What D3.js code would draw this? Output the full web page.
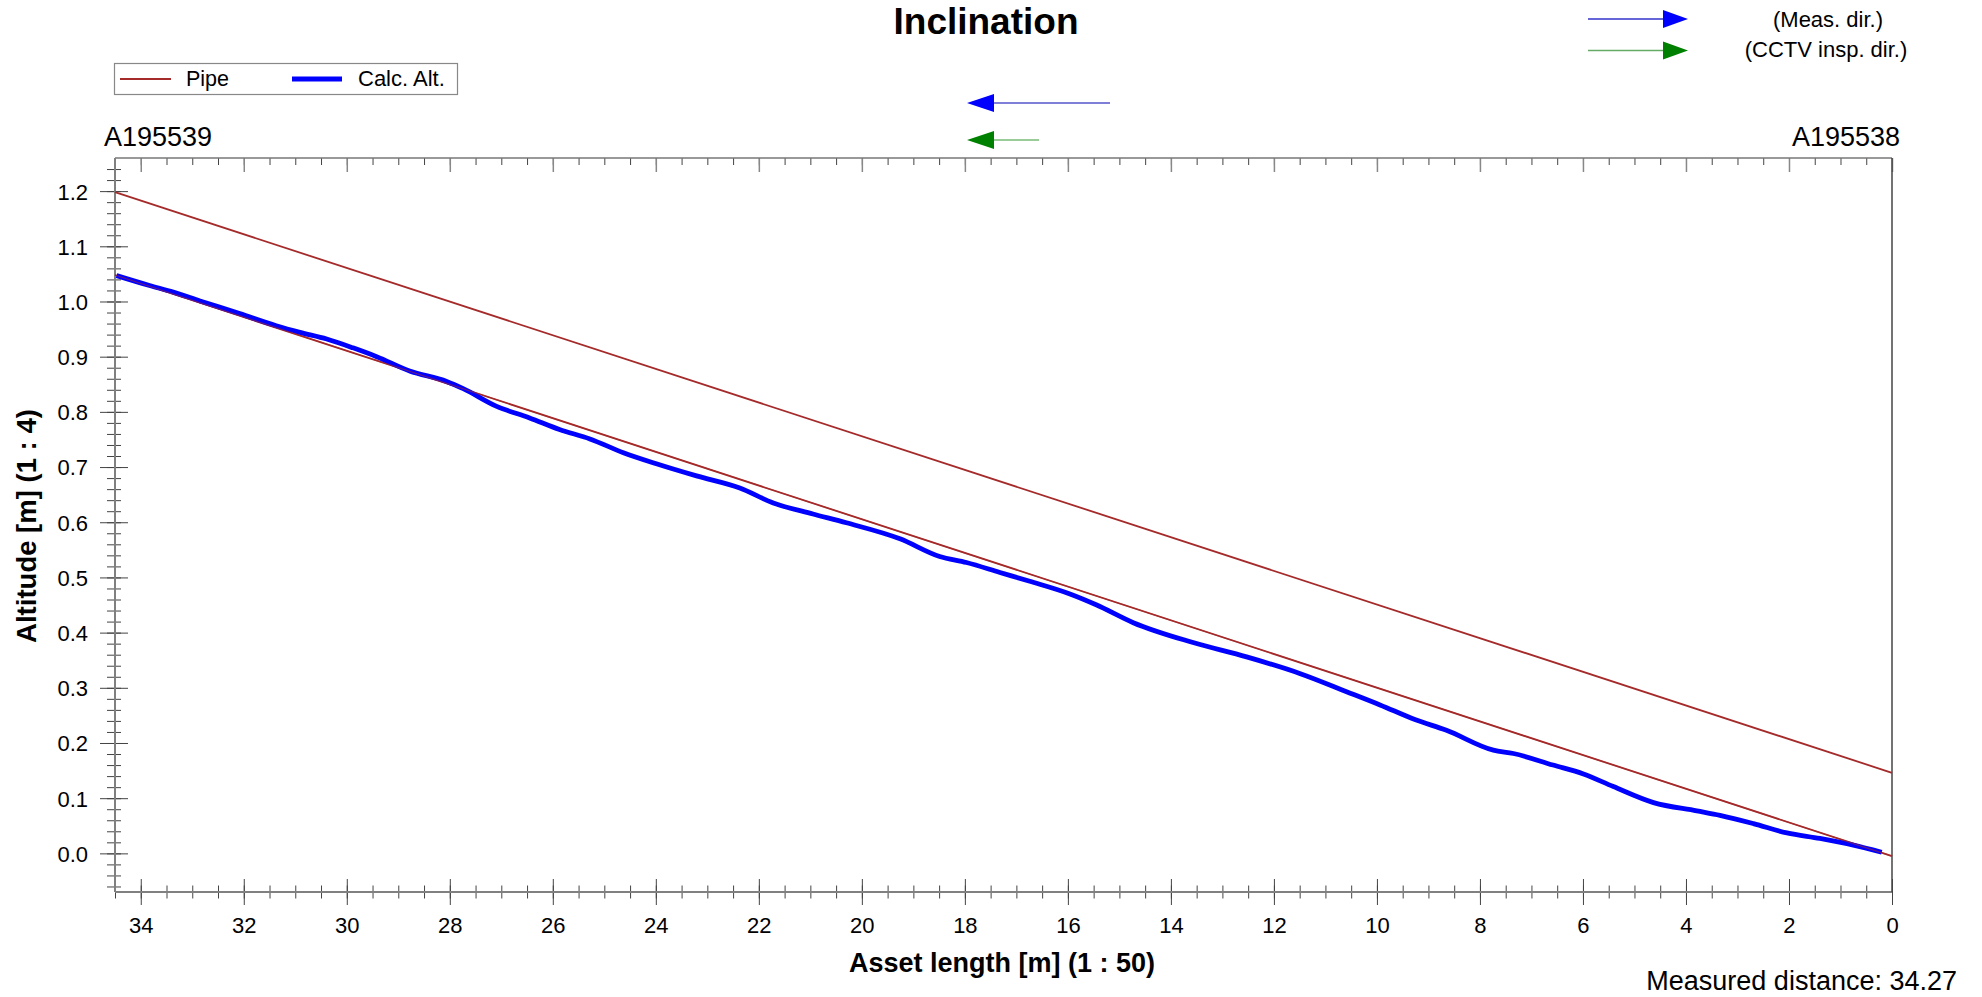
<!DOCTYPE html>
<html>
<head>
<meta charset="utf-8">
<script src="https://cdn.jsdelivr.net/npm/d3@7"></script>
<style>
  html, body { margin: 0; padding: 0; background: #fff; }
  svg { display: block; font-family: "Liberation Sans", Arial, sans-serif; }
</style>
</head>
<body>
<svg id="chart" width="1982" height="997"></svg>
<script>
// ---------------- data ----------------
const title = "Inclination";
const xAxisTitle = "Asset length [m] (1 : 50)";
const yAxisTitle = "Altitude [m] (1 : 4)";
const startNode = "A195539";
const endNode = "A195538";
const measuredText = "Measured distance: 34.27";
const seriesNames = ["Pipe", "Calc. Alt."];
const dirLabels = ["(Meas. dir.)", "(CCTV insp. dir.)"];

const xTickLabels = [0, 2, 4, 6, 8, 10, 12, 14, 16, 18, 20, 22, 24, 26, 28, 30, 32, 34];
const yTickLabels = ["0.0", "0.1", "0.2", "0.3", "0.4", "0.5", "0.6", "0.7", "0.8", "0.9", "1.0", "1.1", "1.2"];

// pipe invert and crown lines (distance, altitude)
const pipeDist = [34.5, 0];
const pipeInvert = [1.048, -0.005];
const pipeCrown = [1.198, 0.146];

// calculated altitude (distance m, altitude m)
const calcDist = [34.47, 33.83, 33.37, 32.85, 32.08, 31.37, 30.91, 30.39, 29.88, 29.42, 28.78, 28.06, 27.74, 27.09,
  26.45, 25.87, 25.28, 24.63, 23.99, 23.21, 22.37, 21.72, 20.95, 20.30, 19.26, 18.49, 17.97, 17.32, 16.74, 15.96,
  15.44, 14.73, 13.57, 12.53, 11.50, 10.59, 9.94, 9.25, 8.65, 7.74, 7.35, 6.58, 5.99, 5.41, 4.63, 3.79, 3.34, 2.69,
  2.04, 1.40, 0.75, 0.20];
const calcAlt = [1.047, 1.029, 1.017, 1.001, 0.978, 0.956, 0.944, 0.932, 0.916, 0.900, 0.874, 0.855, 0.842, 0.810,
  0.789, 0.768, 0.751, 0.726, 0.706, 0.684, 0.662, 0.635, 0.615, 0.599, 0.570, 0.538, 0.527, 0.509, 0.493, 0.470,
  0.450, 0.418, 0.382, 0.356, 0.326, 0.293, 0.269, 0.242, 0.223, 0.187, 0.181, 0.160, 0.144, 0.121, 0.092, 0.077, 0.069, 0.054,
  0.037, 0.027, 0.015, 0.002];

// ---------------- layout ----------------
const svg = d3.select("#chart");
const L = 115, R = 1892, T = 158, B = 892;
const x = d3.scaleLinear().domain([34.5, 0]).range([L, R]);
const y = d3.scaleLinear().domain([-0.07, 1.26]).range([B, T]);

const pipeColor = "#a52a2a";
const calcColor = "#0000ff";
const tickColor = "#444";
const fontTick = 22;

// ---------------- axes ----------------
const xMinor = d3.range(0, 70).map(i => i * 0.5).filter(v => v <= 34.5);
const yMinor = d3.range(-3, 63).map(i => +(i * 0.02).toFixed(2));
const yMajor = yTickLabels.map(Number);

// bottom minor
const gxm = svg.append("g").attr("transform", `translate(0,${B})`)
  .call(d3.axisBottom(x).tickValues(xMinor).tickSize(6.5).tickFormat(""));
gxm.select(".domain").remove();
gxm.selectAll(".tick line").attr("y1", -6.5).attr("stroke", tickColor);
// bottom major
const gx = svg.append("g").attr("transform", `translate(0,${B})`)
  .call(d3.axisBottom(x).tickValues(xTickLabels).tickSize(13).tickFormat(d3.format("d")));
gx.select(".domain").remove();
gx.selectAll(".tick line").attr("y1", -13).attr("stroke", tickColor);
gx.selectAll(".tick text").attr("y", 41).attr("dy", 0)
  .attr("font-size", fontTick).attr("fill", "#000").attr("font-family", "Liberation Sans, Arial, sans-serif");

// top minor / major (inward)
const gtm = svg.append("g").attr("transform", `translate(0,${T})`)
  .call(d3.axisBottom(x).tickValues(xMinor).tickSize(7).tickFormat(""));
gtm.select(".domain").remove();
gtm.selectAll(".tick line").attr("stroke", tickColor);
const gt = svg.append("g").attr("transform", `translate(0,${T})`)
  .call(d3.axisBottom(x).tickValues(xTickLabels).tickSize(14).tickFormat(""));
gt.select(".domain").remove();
gt.selectAll(".tick line").attr("stroke", "#888").attr("stroke-width", 1.5);

// left minor
const gym = svg.append("g").attr("transform", `translate(${L},0)`)
  .call(d3.axisLeft(y).tickValues(yMinor).tickSize(8).tickFormat(""));
gym.select(".domain").remove();
gym.selectAll(".tick line").attr("x1", 6).attr("stroke", tickColor);
// left major
const gy = svg.append("g").attr("transform", `translate(${L},0)`)
  .call(d3.axisLeft(y).tickValues(yMajor).tickSize(15).tickFormat((d, i) => yTickLabels[i]));
gy.select(".domain").remove();
gy.selectAll(".tick line").attr("x1", 13).attr("stroke", tickColor);
gy.selectAll(".tick text").attr("x", -27).attr("dy", "0.36em")
  .attr("font-size", fontTick).attr("fill", "#000").attr("font-family", "Liberation Sans, Arial, sans-serif");

// frame lines
svg.append("line").attr("x1", L).attr("x2", R).attr("y1", T).attr("y2", T).attr("stroke", "#777").attr("stroke-width", 1.5);
svg.append("line").attr("x1", L).attr("x2", R).attr("y1", B).attr("y2", B).attr("stroke", "#808080").attr("stroke-width", 2);
svg.append("line").attr("x1", L).attr("x2", L).attr("y1", T).attr("y2", B).attr("stroke", "#808080").attr("stroke-width", 2);
svg.append("line").attr("x1", R).attr("x2", R).attr("y1", T).attr("y2", B).attr("stroke", "#444").attr("stroke-width", 1.5);

// ---------------- series ----------------
const line = d3.line().x(d => x(d[0])).y(d => y(d[1]));
svg.append("path").datum(pipeDist.map((d, i) => [d, pipeCrown[i]]))
  .attr("d", line).attr("fill", "none").attr("stroke", pipeColor).attr("stroke-width", 1.8);
svg.append("path").datum(pipeDist.map((d, i) => [d, pipeInvert[i]]))
  .attr("d", line).attr("fill", "none").attr("stroke", pipeColor).attr("stroke-width", 1.8);

svg.append("path").datum(calcDist.map((d, i) => [d, calcAlt[i]]))
  .attr("d", d3.line().x(d => x(d[0])).y(d => y(d[1])).curve(d3.curveMonotoneX))
  .attr("fill", "none").attr("stroke", calcColor).attr("stroke-width", 4.8).attr("stroke-linejoin", "round");
// pipe invert redrawn faintly over the calc line where they overlap
svg.append("path").datum(pipeDist.map((d, i) => [d, pipeInvert[i]]))
  .attr("d", line).attr("fill", "none").attr("stroke", pipeColor).attr("stroke-width", 1.2).attr("opacity", 0.6);

// ---------------- texts ----------------
svg.append("text").attr("x", 986).attr("y", 34).attr("text-anchor", "middle")
  .attr("font-size", 37).attr("font-weight", "bold").text(title);
svg.append("text").attr("x", 1002).attr("y", 972).attr("text-anchor", "middle")
  .attr("font-size", 27).attr("font-weight", "bold").text(xAxisTitle);
svg.append("text").attr("transform", "translate(36,526) rotate(-90)").attr("text-anchor", "middle")
  .attr("font-size", 27.5).attr("font-weight", "bold").text(yAxisTitle);
svg.append("text").attr("x", 104).attr("y", 146).attr("font-size", 27).text(startNode);
svg.append("text").attr("x", 1900).attr("y", 146).attr("text-anchor", "end").attr("font-size", 27).text(endNode);
svg.append("text").attr("x", 1957).attr("y", 990).attr("text-anchor", "end").attr("font-size", 27).text(measuredText);

// ---------------- legend ----------------
const lg = svg.append("g");
lg.append("rect").attr("x", 114.5).attr("y", 63.5).attr("width", 343).attr("height", 31)
  .attr("fill", "#fff").attr("stroke", "#888").attr("stroke-width", 1.2);
lg.append("line").attr("x1", 120).attr("x2", 171).attr("y1", 79).attr("y2", 79).attr("stroke", pipeColor).attr("stroke-width", 1.8);
lg.append("text").attr("x", 186).attr("y", 86).attr("font-size", 21.5).text(seriesNames[0]);
lg.append("line").attr("x1", 292).attr("x2", 342).attr("y1", 79).attr("y2", 79).attr("stroke", calcColor).attr("stroke-width", 5);
lg.append("text").attr("x", 358).attr("y", 86).attr("font-size", 22).text(seriesNames[1]);

// ---------------- direction arrows ----------------
function arrow(x0, x1, yy, lineColor, headColor, dir) {
  // dir = 1 points right (tip at x1), -1 points left (tip at x0)
  const g = svg.append("g");
  if (dir === 1) {
    g.append("line").attr("x1", x0).attr("x2", x1 - 25).attr("y1", yy).attr("y2", yy).attr("stroke", lineColor).attr("stroke-width", 1.3);
    g.append("path").attr("d", `M${x1 - 25},${yy - 9}L${x1},${yy}L${x1 - 25},${yy + 9}Z`).attr("fill", headColor);
  } else {
    g.append("line").attr("x1", x0 + 27).attr("x2", x1).attr("y1", yy).attr("y2", yy).attr("stroke", lineColor).attr("stroke-width", 1.3);
    g.append("path").attr("d", `M${x0 + 27},${yy - 9}L${x0},${yy}L${x0 + 27},${yy + 9}Z`).attr("fill", headColor);
  }
}
arrow(1588, 1688, 19, "#3333cc", "#0000ff", 1);
arrow(1588, 1688, 50.5, "#66aa66", "#008000", 1);
arrow(967, 1110, 103, "#5555cc", "#0000ff", -1);
arrow(967, 1039, 140, "#77bb77", "#008000", -1);

svg.append("text").attr("x", 1828).attr("y", 27).attr("text-anchor", "middle").attr("font-size", 22).text(dirLabels[0]);
svg.append("text").attr("x", 1826).attr("y", 57).attr("text-anchor", "middle").attr("font-size", 22).text(dirLabels[1]);
</script>
</body>
</html>
